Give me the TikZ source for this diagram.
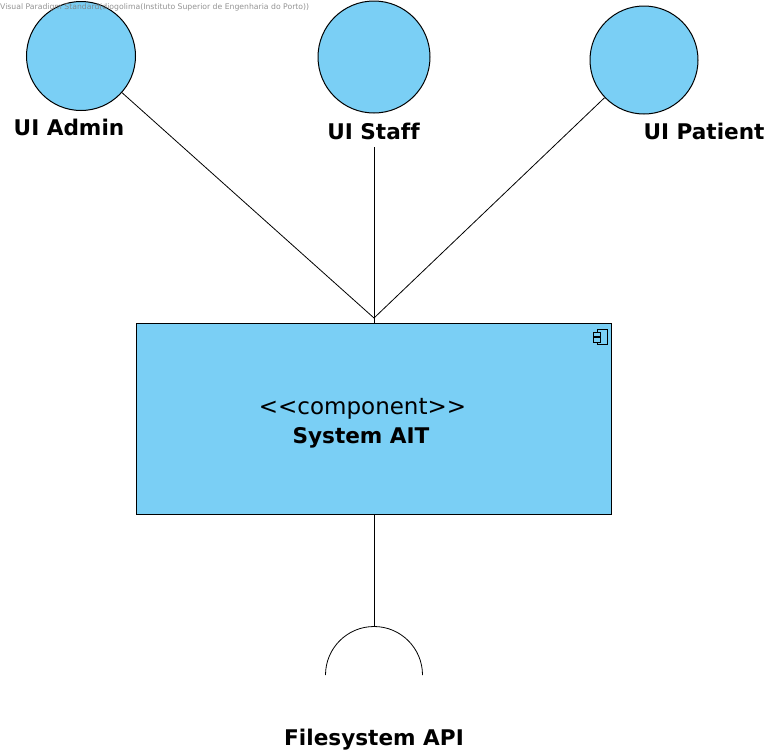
\documentclass[tikz,border=0pt]{standalone}
\usepackage{fontspec}
\setmainfont{DejaVu Sans}[Ligatures=NoCommon]
\begin{document}
\begin{tikzpicture}[x=1pt,y=-1pt,
  ifc/.style={circle,draw=black,fill=compblue,line width=1pt,inner sep=0pt},
  lbl/.style={font=\fontsize{21.6}{24}\selectfont\bfseries,text=black,inner sep=0pt,anchor=base},
  wire/.style={draw=black,line width=0.8pt}]
\definecolor{compblue}{HTML}{7ACFF5}
\useasboundingbox (0,0) rectangle (778,755);
\node[ifc,minimum size=109pt] (admin) at (81,56) {};
\node[ifc,minimum size=112pt] (staff) at (374,57) {};
\node[ifc,minimum size=108pt] (patient) at (644,60) {};
\node[lbl] (adminL) at (69,135) {UI Admin};
\node[lbl] (staffL) at (373.5,139.5) {UI Staff};
\node[lbl] (patientL) at (704,139.5) {UI Patient};
\node[draw=black,fill=compblue,line width=1pt,minimum width=475pt,minimum height=191pt,inner sep=0pt] (sys) at (374,419) {};
\node[font=\fontsize{23}{26}\selectfont,inner sep=0pt,anchor=base] (stereo) at (362.5,414.5) {<{}<component>{}>};
\node[lbl] (sysname) at (361,443.5) {System AIT};
\coordinate (junction) at (374,318);
\coordinate (staffEnd) at (374,147);
\coordinate (arcTop) at (374,626);
\coordinate (arcLeft) at (325.5,675);
\draw[wire] (admin) -- (junction);
\draw[wire] (staffEnd) -- (junction);
\draw[wire] (patient) -- (junction);
\draw[wire] (junction) -- (sys.north);
\draw[wire] (sys.south) -- (arcTop);
\draw[wire] (arcLeft) arc[start angle=180,end angle=360,radius=48.5];
\node[lbl] (fsL) at (374,745.5) {Filesystem API};
\node[font=\fontsize{7.7}{9}\selectfont,text=black!50,inner sep=0pt,anchor=west,opacity=.85] (wm) at (0,7) {Visual Paradigm Standard(diogolima(Instituto Superior de Engenharia do Porto))};
% component icon
\draw[black,line width=0.8pt] (597,329.5) rectangle (607,344.5);
\draw[black,fill=compblue,line width=0.8pt] (593.5,332) rectangle (600.5,336.5);
\draw[black,fill=compblue,line width=0.8pt] (593.5,337.5) rectangle (600.5,342);
\end{tikzpicture}
\end{document}
